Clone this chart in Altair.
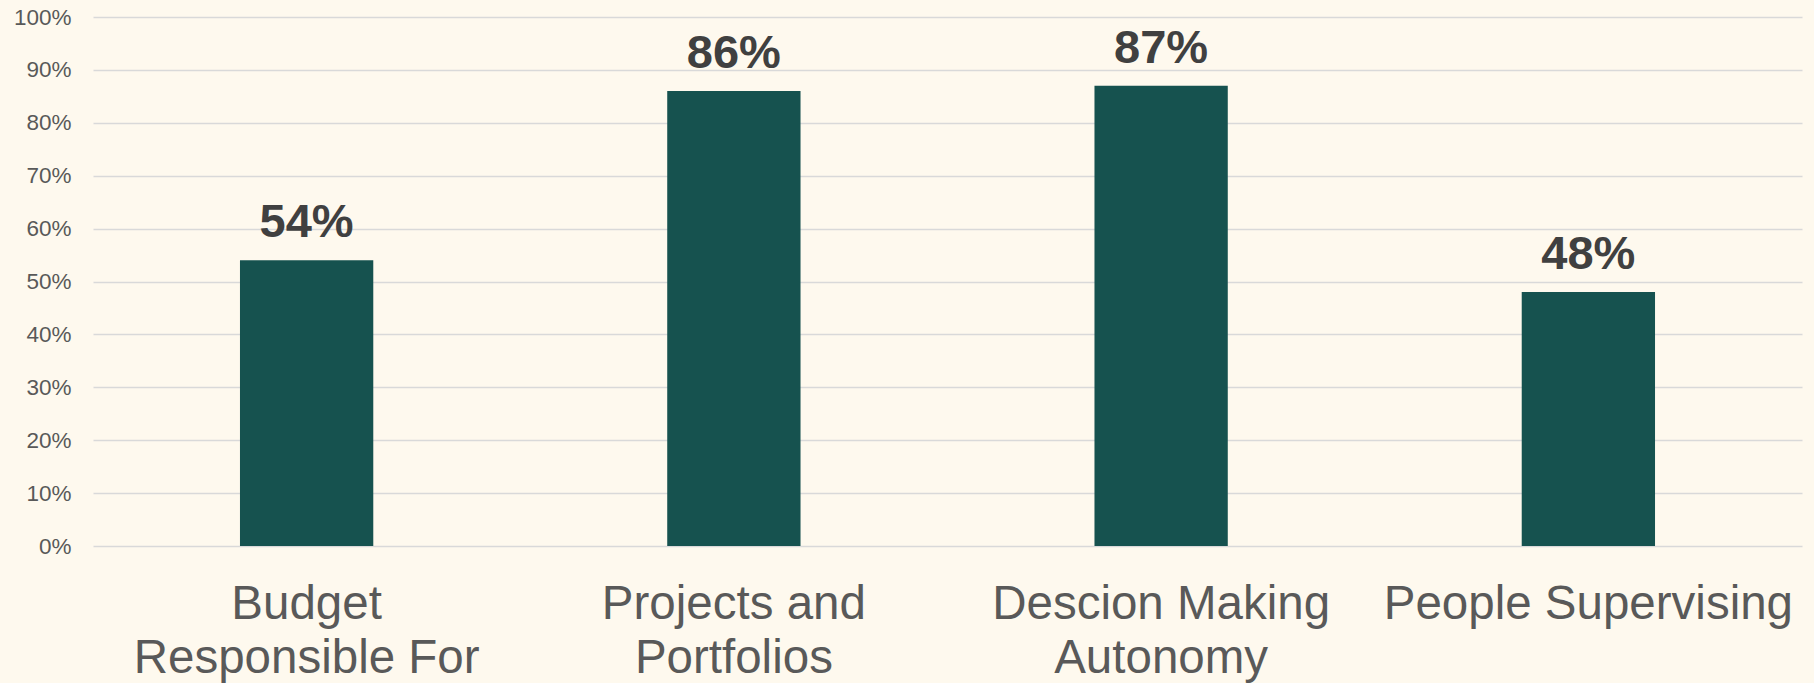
import altair as alt
import pandas as pd

categories = ["Budget\nResponsible For", "Projects and\nPortfolios", "Descion Making\nAutonomy", "People Supervising"]
values = [0.54, 0.86, 0.87, 0.48]
y_ticks = [0, 0.1, 0.2, 0.3, 0.4, 0.5, 0.6, 0.7, 0.8, 0.9, 1.0]

df = pd.DataFrame({"cat": categories, "val": values})

FONT = "Liberation Sans"

x = alt.X("cat:N", sort=categories, title=None,
          scale=alt.Scale(paddingInner=0.0, paddingOuter=0.0),
          axis=alt.Axis(labelAngle=0, labelFontSize=47.5, labelColor="#595959", labelFont=FONT,
                        labelExpr="split(datum.label, '\\n')", labelLineHeight=54,
                        labelPadding=34, labelLimit=0, ticks=False, domain=False, grid=False,
                        labelBaseline="top"))
y = alt.Y("val:Q", title=None,
          scale=alt.Scale(domain=[0, 1], nice=False),
          axis=alt.Axis(values=y_ticks, format=".0%", labelFontSize=22.5, labelColor="#595959",
                        labelFont=FONT, labelPadding=22, ticks=False, domain=False,
                        grid=True, gridColor="#D9D9D9", gridWidth=1.5))

base = alt.Chart(df)
bars = base.mark_bar(color="#16524F", width=alt.RelativeBandSize(0.312)).encode(x=x, y=y)
labels = base.mark_text(font=FONT, fontSize=47, fontWeight="bold", color="#404040",
                        baseline="alphabetic", dy=-23).encode(
    x=alt.X("cat:N", sort=categories), y="val:Q", text=alt.Text("val:Q", format=".0%"))

chart = (bars + labels).properties(
    width=1709, height=529, background="#FEF9EE",
    autosize=alt.AutoSizeParams(type="none"),
    padding={"left": 93, "top": 17, "right": 12, "bottom": 137},
).configure_view(stroke=None)

chart.save("out.html", embed_options={"renderer": "svg", "actions": False})
